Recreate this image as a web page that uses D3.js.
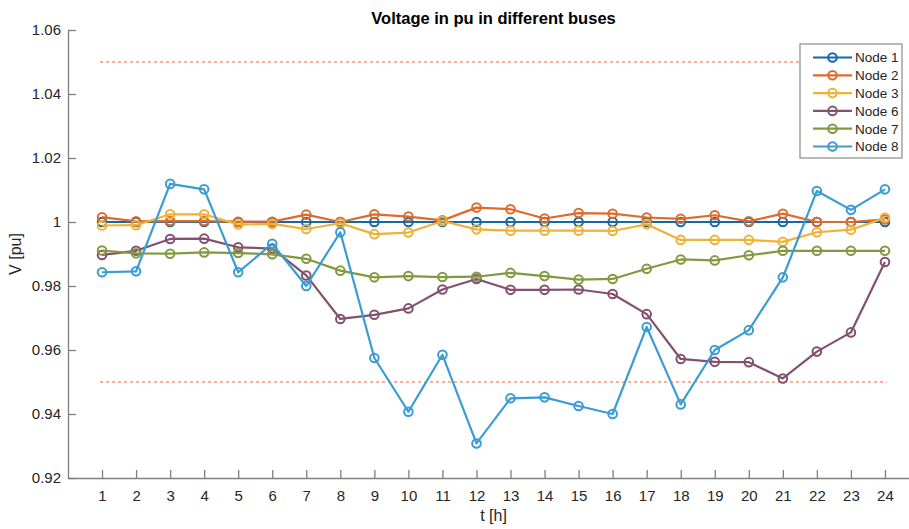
<!DOCTYPE html>
<html>
<head>
<meta charset="utf-8">
<script src="https://cdn.jsdelivr.net/npm/d3@7"></script>
<style>
    body { margin: 0; background: #fff; }
    svg { display: block; font-family: "Liberation Sans", Arial, sans-serif; }
</style>
</head>
<body>
<div id="chart"></div>
<script>
// ─── Data ───
const hours = d3.range(1, 25);
const seriesNames = ['Node 1', 'Node 2', 'Node 3', 'Node 6', 'Node 7', 'Node 8'];
const seriesColors = ['#1767a0', '#dc6b2e', '#efb236', '#84506f', '#82993f', '#3a9cd3'];

const node1 = [1.000, 1.000, 1.000, 1.000, 1.000, 1.000, 1.000, 1.000, 1.000, 1.000, 1.000, 1.000,
               1.000, 1.000, 1.000, 1.000, 1.000, 1.000, 1.000, 1.000, 1.000, 1.000, 1.000, 1.000];
const node2 = [1.0015, 1.0002, 1.0003, 1.0003, 1.0001, 1.0001, 1.0023, 1.0000, 1.0024, 1.0017, 1.0005, 1.0045,
               1.0040, 1.0011, 1.0028, 1.0026, 1.0014, 1.0010, 1.0021, 1.0002, 1.0026, 1.0000, 1.0000, 1.0008];
const node3 = [0.9989, 0.9990, 1.0024, 1.0024, 0.9992, 0.9994, 0.9978, 0.9996, 0.9962, 0.9967, 1.0003, 0.9977,
               0.9973, 0.9973, 0.9973, 0.9972, 0.9993, 0.9944, 0.9944, 0.9944, 0.9938, 0.9968, 0.9976, 1.0013];
const node6 = [0.9897, 0.9910, 0.9947, 0.9948, 0.9921, 0.9917, 0.9833, 0.9697, 0.9710, 0.9730, 0.9789, 0.9822,
               0.9788, 0.9788, 0.9789, 0.9775, 0.9712, 0.9572, 0.9563, 0.9562, 0.9511, 0.9595, 0.9655, 0.9875];
const node7 = [0.9911, 0.9902, 0.9901, 0.9905, 0.9903, 0.9899, 0.9885, 0.9848, 0.9827, 0.9831, 0.9828, 0.9829,
               0.9841, 0.9831, 0.9820, 0.9822, 0.9854, 0.9883, 0.9880, 0.9896, 0.9910, 0.9910, 0.9910, 0.9910];
const node8 = [0.9843, 0.9846, 1.0119, 1.0102, 0.9843, 0.9932, 0.9800, 0.9968, 0.9575, 0.9407, 0.9585, 0.9308,
               0.9449, 0.9452, 0.9425, 0.9400, 0.9672, 0.9430, 0.9600, 0.9662, 0.9827, 1.0097, 1.0038, 1.0102];
const seriesValues = [node1, node2, node3, node6, node7, node8];

const limits = [1.05, 0.95];
const yTicks = [0.92, 0.94, 0.96, 0.98, 1.00, 1.02, 1.04, 1.06];

// ─── Layout ───
const width = 909, height = 529;
const margin = { left: 68, top: 30, bottom: 51 };
const plotRight = 919; // axes extend slightly past the picture's right edge

const x = d3.scaleLinear().domain([0, 25]).range([margin.left, plotRight]);
const y = d3.scaleLinear().domain([0.92, 1.06]).range([height - margin.bottom, margin.top]);

const svg = d3.select('#chart').append('svg')
    .attr('width', width)
    .attr('height', height)
    .style('overflow', 'hidden');

const axisColor = '#7f7f7f';
const textColor = '#262626';

// ─── Axes (MATLAB style: inward ticks, no box) ───
const xAxis = svg.append('g')
    .attr('transform', `translate(0,${y(0.92)})`)
    .call(d3.axisBottom(x).tickValues(hours).tickSizeInner(-8).tickSizeOuter(0).tickPadding(12));
const yAxis = svg.append('g')
    .attr('transform', `translate(${x(0)},0)`)
    .call(d3.axisLeft(y).tickValues(yTicks).tickSizeInner(-8).tickSizeOuter(0).tickPadding(7)
        .tickFormat(d => String(+d.toFixed(2))));

[xAxis, yAxis].forEach(g => {
    g.select('.domain').attr('stroke', axisColor).attr('stroke-width', 1.3);
    g.selectAll('.tick line').attr('stroke', axisColor).attr('stroke-width', 1.3);
    g.selectAll('.tick text')
        .attr('fill', textColor)
        .style('font-size', '15px')
        .style('font-family', '"Liberation Sans", Arial, sans-serif');
});

// ─── Limit lines ───
svg.append('g').selectAll('line')
    .data(limits)
    .join('line')
    .attr('x1', x(1) - 2)
    .attr('x2', x(24) + 2)
    .attr('y1', d => y(d))
    .attr('y2', d => y(d))
    .attr('stroke', '#ee6238')
    .attr('stroke-width', 1.2)
    .attr('stroke-dasharray', '3,3');

// ─── Series ───
const line = d3.line()
    .x((d, i) => x(hours[i]))
    .y(d => y(d));

const seriesGroup = svg.append('g');
seriesValues.forEach((vals, k) => {
    const g = seriesGroup.append('g');
    g.append('path')
        .datum(vals)
        .attr('d', line)
        .attr('fill', 'none')
        .attr('stroke', seriesColors[k])
        .attr('stroke-width', 2.2)
        .attr('stroke-linejoin', 'round');
    g.selectAll('circle')
        .data(vals)
        .join('circle')
        .attr('cx', (d, i) => x(hours[i]))
        .attr('cy', d => y(d))
        .attr('r', 4.3)
        .attr('fill', 'none')
        .attr('stroke', seriesColors[k])
        .attr('stroke-width', 2);
});

// ─── Titles ───
svg.append('text')
    .attr('x', (x(0) + plotRight) / 2)
    .attr('y', 24)
    .attr('text-anchor', 'middle')
    .attr('fill', '#000')
    .style('font-size', '16.5px')
    .style('font-weight', 700)
    .text('Voltage in pu in different buses');

svg.append('text')
    .attr('x', (x(0) + plotRight) / 2)
    .attr('y', 521)
    .attr('text-anchor', 'middle')
    .attr('fill', textColor)
    .style('font-size', '16px')
    .text('t [h]');

svg.append('text')
    .attr('transform', `translate(21,${(y(0.92) + y(1.06)) / 2}) rotate(-90)`)
    .attr('text-anchor', 'middle')
    .attr('fill', textColor)
    .style('font-size', '16px')
    .text('V [pu]');

// ─── Legend ───
const legend = svg.append('g').attr('transform', 'translate(800,44)');
legend.append('rect')
    .attr('width', 102)
    .attr('height', 114)
    .attr('fill', '#fff')
    .attr('stroke', '#8a8a8a')
    .attr('stroke-width', 1.2);

const rows = legend.selectAll('g.row')
    .data(seriesNames)
    .join('g')
    .attr('class', 'row')
    .attr('transform', (d, i) => `translate(0,${13.5 + i * 17.8})`);
rows.append('line')
    .attr('x1', 13).attr('x2', 52)
    .attr('stroke', (d, i) => seriesColors[i])
    .attr('stroke-width', 2.2);
rows.append('circle')
    .attr('cx', 32.5)
    .attr('r', 4.3)
    .attr('fill', 'none')
    .attr('stroke', (d, i) => seriesColors[i])
    .attr('stroke-width', 2);
rows.append('text')
    .attr('x', 55)
    .attr('dy', '0.36em')
    .attr('fill', textColor)
    .style('font-size', '13.5px')
    .text(d => d);
</script>
</body>
</html>
